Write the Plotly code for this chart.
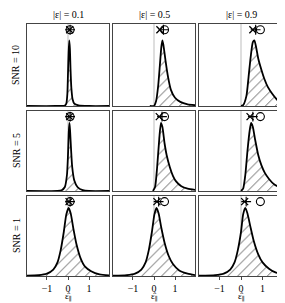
import plotly.graph_objects as go

# Column / row labels
col_titles = ["|ε| = 0.1", "|ε| = 0.5", "|ε| = 0.9"]
x_label = "ε̂<sub>∥</sub>"
row_titles = ["SNR = 10", "SNR = 5", "SNR = 1"]
tick_vals = [-1, 0, 1]
tick_text = ["−1", "0", "1"]
true_eps = [0.1, 0.5, 0.9]

# Density curves (x, relative height), row-major
x_r1c1 = [-1.95, -0.6, -0.15, -0.08, -0.03, 0.0, 0.03, 0.06, 0.09, 0.12, 0.16, 0.22, 0.3, 0.5, 1.0, 1.95]
y_r1c1 = [0.0, 0.0, 0.005, 0.03, 0.15, 0.4, 0.65, 0.8, 0.7, 0.45, 0.22, 0.08, 0.03, 0.008, 0.0, 0.0]
x_r1c2 = [-0.2, 0.0, 0.1, 0.2, 0.28, 0.35, 0.4, 0.45, 0.55, 0.65, 0.8, 1.0, 1.25, 1.6, 1.95]
y_r1c2 = [0.0, 0.0, 0.06, 0.25, 0.5, 0.72, 0.8, 0.74, 0.55, 0.38, 0.2, 0.1, 0.05, 0.02, 0.01]
x_r1c3 = [0.0, 0.1, 0.25, 0.35, 0.45, 0.55, 0.62, 0.7, 0.8, 0.95, 1.1, 1.25, 1.45, 1.7, 1.95]
y_r1c3 = [0.0, 0.01, 0.12, 0.35, 0.6, 0.78, 0.8, 0.72, 0.58, 0.44, 0.32, 0.23, 0.15, 0.07, 0.03]

x_r2c1 = [-1.95, -0.5, -0.3, -0.15, -0.05, 0.0, 0.04, 0.07, 0.1, 0.15, 0.2, 0.3, 0.45, 0.7, 1.0, 1.95]
y_r2c1 = [0.0, 0.0, 0.01, 0.05, 0.2, 0.45, 0.75, 0.85, 0.75, 0.5, 0.3, 0.13, 0.05, 0.01, 0.0, 0.0]
x_r2c2 = [-0.05, 0.05, 0.15, 0.25, 0.33, 0.4, 0.5, 0.6, 0.75, 0.9, 1.05, 1.3, 1.6, 1.95]
y_r2c2 = [0.0, 0.05, 0.3, 0.65, 0.85, 0.8, 0.6, 0.45, 0.3, 0.19, 0.12, 0.06, 0.03, 0.015]
x_r2c3 = [0.0, 0.1, 0.2, 0.3, 0.4, 0.47, 0.55, 0.65, 0.8, 0.95, 1.1, 1.3, 1.55, 1.95]
y_r2c3 = [0.0, 0.03, 0.2, 0.5, 0.75, 0.85, 0.8, 0.65, 0.45, 0.32, 0.23, 0.15, 0.08, 0.03]

x_r3c1 = [-1.95, -1.4, -1.0, -0.7, -0.5, -0.35, -0.2, -0.08, 0.03, 0.13, 0.25, 0.4, 0.6, 0.8, 1.1, 1.5, 1.95]
y_r3c1 = [0.005, 0.01, 0.03, 0.08, 0.17, 0.32, 0.55, 0.77, 0.85, 0.78, 0.6, 0.4, 0.22, 0.12, 0.06, 0.02, 0.008]
x_r3c2 = [-1.95, -1.3, -0.9, -0.6, -0.4, -0.25, -0.1, 0.02, 0.12, 0.22, 0.35, 0.5, 0.7, 0.9, 1.2, 1.6, 1.95]
y_r3c2 = [0.003, 0.01, 0.03, 0.08, 0.17, 0.32, 0.55, 0.77, 0.85, 0.78, 0.6, 0.42, 0.25, 0.15, 0.07, 0.03, 0.012]
x_r3c3 = [-1.95, -1.2, -0.8, -0.5, -0.3, -0.15, 0.0, 0.1, 0.2, 0.3, 0.45, 0.6, 0.8, 1.0, 1.3, 1.6, 1.95]
y_r3c3 = [0.003, 0.01, 0.03, 0.08, 0.17, 0.32, 0.55, 0.77, 0.85, 0.78, 0.6, 0.43, 0.27, 0.17, 0.09, 0.045, 0.02]

curves_x = [[x_r1c1, x_r1c2, x_r1c3], [x_r2c1, x_r2c2, x_r2c3], [x_r3c1, x_r3c2, x_r3c3]]
curves_y = [[y_r1c1, y_r1c2, y_r1c3], [y_r2c1, y_r2c2, y_r2c3], [y_r3c1, y_r3c2, y_r3c3]]

# Summary markers: median (×), mean (+), truth (○)
median_est = [[0.08, 0.28, 0.55], [0.08, 0.25, 0.42], [0.05, 0.14, 0.17]]
mean_est = [[0.1, 0.45, 0.68], [0.1, 0.38, 0.55], [0.1, 0.22, 0.24]]

W, H = 285, 303
x_dom_px = [(19, 101), (105, 187), (191, 275)]
y_dom_px = [(16, 98), (103, 183), (188, 268)]
FONT = "Liberation Serif, DejaVu Serif, serif"

fig = go.Figure()
layout = dict(width=W, height=H, margin=dict(l=0, r=0, t=0, b=0),
              paper_bgcolor="white", plot_bgcolor="white", showlegend=False,
              font=dict(family=FONT, color="black", size=10))
annotations = []
shapes = []
MARK_Y = 0.93

for r in range(3):
    for c in range(3):
        idx = r * 3 + c + 1
        xa = "x" if idx == 1 else f"x{idx}"
        ya = "y" if idx == 1 else f"y{idx}"
        xk = "xaxis" if idx == 1 else f"xaxis{idx}"
        yk = "yaxis" if idx == 1 else f"yaxis{idx}"
        x0, x1 = x_dom_px[c]
        y0, y1 = y_dom_px[r]
        bottom = (r == 2)
        layout[xk] = dict(domain=[x0 / W, x1 / W], range=[-1.95, 1.95], anchor=ya,
                          showgrid=False, zeroline=False, showline=True, mirror=True,
                          linecolor="#444", linewidth=1.2,
                          tickvals=tick_vals if bottom else [], ticktext=tick_text,
                          ticks="outside" if bottom else "", ticklen=3, tickcolor="#444",
                          tickfont=dict(size=10, family=FONT, color="black"),
                          showticklabels=bottom)
        layout[yk] = dict(domain=[1 - y1 / H, 1 - y0 / H], range=[0, 1], anchor=xa,
                          showgrid=False, zeroline=False, showline=True, mirror=True,
                          linecolor="#444", linewidth=1.2, showticklabels=False, ticks="")
        # gray line at zero
        shapes.append(dict(type="line", xref=xa, yref=f"{ya} domain", x0=0, x1=0, y0=0, y1=1,
                           line=dict(color="#c8c8c8", width=1.2), layer="below"))
        fig.add_trace(go.Scatter(x=curves_x[r][c], y=curves_y[r][c], xaxis=xa, yaxis=ya,
                                 mode="lines", line=dict(color="black", width=1.8, shape="spline", smoothing=0.6),
                                 fill="tozeroy", fillcolor="white",
                                 fillpattern=dict(shape="/", fgcolor="#555", bgcolor="white",
                                                  size=7, solidity=0.13, fgopacity=1),
                                 hoverinfo="skip"))
        fig.add_trace(go.Scatter(x=[median_est[r][c]], y=[MARK_Y], xaxis=xa, yaxis=ya, mode="markers",
                                 marker=dict(symbol="x-thin", size=7, line=dict(color="black", width=1.3))))
        fig.add_trace(go.Scatter(x=[mean_est[r][c]], y=[MARK_Y], xaxis=xa, yaxis=ya, mode="markers",
                                 marker=dict(symbol="cross-thin", size=7, line=dict(color="black", width=1.1))))
        fig.add_trace(go.Scatter(x=[true_eps[c]], y=[MARK_Y], xaxis=xa, yaxis=ya, mode="markers",
                                 marker=dict(symbol="circle-open", size=8, color="black", line=dict(width=1.1))))

for c in range(3):
    x0, x1 = x_dom_px[c]
    annotations.append(dict(text=col_titles[c], x=(x0 + x1) / 2 / W, y=1 - 7 / H,
                            xref="paper", yref="paper",
                            showarrow=False, font=dict(size=10, color="black", family=FONT),
                            xanchor="center", yanchor="middle"))
    annotations.append(dict(text=x_label, x=(x0 + x1) / 2 / W, y=1 - 288 / H, xref="paper", yref="paper",
                            showarrow=False, font=dict(size=9, color="black", family=FONT),
                            xanchor="center", yanchor="middle"))
for r in range(3):
    y0, y1 = y_dom_px[r]
    annotations.append(dict(text=row_titles[r], x=8 / W, y=1 - (y0 + y1) / 2 / H, xref="paper", yref="paper",
                            showarrow=False, textangle=-90, font=dict(size=10, color="black", family=FONT),
                            xanchor="center", yanchor="middle"))

layout["annotations"] = annotations
layout["shapes"] = shapes
fig.update_layout(**layout)
fig.write_html("out.html")
